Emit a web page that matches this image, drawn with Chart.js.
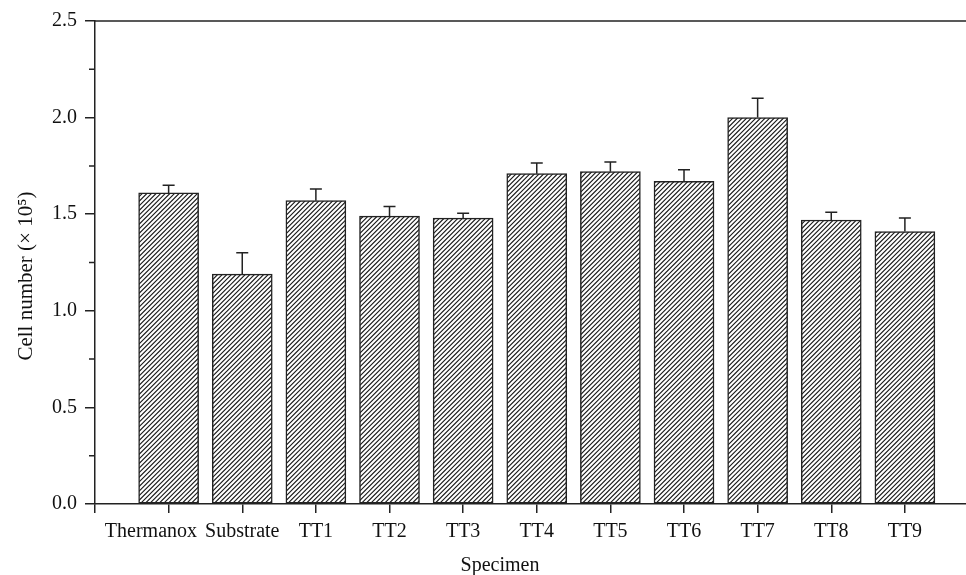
<!DOCTYPE html>
<html>
<head>
    <title>Cell number by specimen</title>
    <script src="https://cdn.jsdelivr.net/npm/chart.js@4.4.0/dist/chart.umd.min.js"></script>
    <style>
        body { margin: 0; padding: 0; background: #fff; overflow: hidden; }
        .chart-box { width: 966px; height: 575px; position: relative; }
    </style>
</head>
<body>
    <div class="chart-box"><canvas id="cellChart"></canvas></div>

    <script>
        // data (cell number, x10^5)
        const categories = ['Thermanox', 'Substrate', 'TT1', 'TT2', 'TT3', 'TT4', 'TT5', 'TT6', 'TT7', 'TT8', 'TT9'];
        const cellNumber = [1.61, 1.19, 1.57, 1.49, 1.48, 1.71, 1.72, 1.67, 2.00, 1.47, 1.41];
        const errorUpper = [0.04, 0.11, 0.06, 0.05, 0.025, 0.055, 0.05, 0.06, 0.10, 0.04, 0.07];
        const yMajorTicks = [0, 0.5, 1.0, 1.5, 2.0, 2.5];
        const yMinorTicks = [0.25, 0.75, 1.25, 1.75, 2.25];

        const font = { family: "'Liberation Serif', 'Times New Roman', serif", size: 20 };
        const ink = '#222';

        // "///" hatch, 5 stripes per 23px tile (about 4.6px apart)
        function hatchPattern() {
            const s = 23, k = 5;
            const c = document.createElement('canvas');
            c.width = s; c.height = s;
            const g = c.getContext('2d');
            g.fillStyle = '#fff';
            g.fillRect(0, 0, s, s);
            g.strokeStyle = '#1a1a1a';
            g.lineWidth = 1.15;
            g.beginPath();
            for (let j = 0; j <= 2 * k; j++) {
                const d = j * s / k;
                g.moveTo(d - s - 1, s + 1);
                g.lineTo(d + 1, -1);
            }
            g.stroke();
            return g.createPattern(c, 'repeat');
        }

        // top frame line, minor y ticks, upper error bars, x labels, axis titles
        const extras = {
            id: 'extras',
            afterDatasetsDraw(chart) {
                const ctx = chart.ctx;
                const x = chart.scales.x, y = chart.scales.y;
                const area = chart.chartArea;
                ctx.save();
                ctx.strokeStyle = ink;
                ctx.lineWidth = 1.5;

                ctx.beginPath();
                ctx.moveTo(area.left, area.top);
                ctx.lineTo(area.right, area.top);
                ctx.stroke();

                ctx.beginPath();
                yMinorTicks.forEach(v => {
                    const py = y.getPixelForValue(v);
                    ctx.moveTo(area.left, py);
                    ctx.lineTo(area.left - 6, py);
                });
                ctx.stroke();

                const meta = chart.getDatasetMeta(0);
                ctx.beginPath();
                meta.data.forEach((bar, i) => {
                    const top = y.getPixelForValue(cellNumber[i]);
                    const cap = y.getPixelForValue(cellNumber[i] + errorUpper[i]);
                    ctx.moveTo(bar.x, top);
                    ctx.lineTo(bar.x, cap);
                    ctx.moveTo(bar.x - 6, cap);
                    ctx.lineTo(bar.x + 6, cap);
                });
                ctx.stroke();

                // category labels, nudged left where a long one would run into its neighbour
                ctx.fillStyle = '#111';
                ctx.font = `${font.size}px ${font.family}`;
                ctx.textAlign = 'center';
                ctx.textBaseline = 'middle';
                const widths = categories.map(c => ctx.measureText(c).width);
                const centers = categories.map((c, i) => x.getPixelForValue(i + 1));
                for (let i = categories.length - 2; i >= 0; i--) {
                    const nextLeft = centers[i + 1] - widths[i + 1] / 2;
                    centers[i] = Math.min(centers[i], nextLeft - 8 - widths[i] / 2);
                }
                categories.forEach((c, i) => ctx.fillText(c, centers[i], x.top + 28));

                ctx.textBaseline = 'bottom';
                const cx = (x.left + x.getPixelForValue(categories.length)) / 2;
                ctx.fillText('Specimen', cx, chart.height + 1);

                ctx.font = `21px ${font.family}`;
                ctx.textBaseline = 'middle';
                ctx.translate(26, y.getPixelForValue(1.18));
                ctx.rotate(-Math.PI / 2);
                ctx.fillText('Cell number (\u00d7 10\u2075)', 0, 0);
                ctx.restore();
            }
        };

        try {
            new Chart(document.getElementById('cellChart'), {
                type: 'bar',
                data: {
                    datasets: [{
                        label: 'Cell number',
                        data: categories.map((c, i) => ({ x: i + 1, y: cellNumber[i] })),
                        backgroundColor: hatchPattern(),
                        borderColor: ink,
                        borderWidth: 1.5,
                        borderSkipped: false,
                        barThickness: 60
                    }]
                },
                options: {
                    responsive: true,
                    maintainAspectRatio: false,
                    animation: false,
                    layout: { padding: { top: 21, right: 0, bottom: 0, left: 0 } },
                    plugins: {
                        legend: { display: false },
                        tooltip: { enabled: false }
                    },
                    scales: {
                        x: {
                            type: 'linear',
                            min: 0,
                            max: 11.83,
                            offset: false,
                            afterBuildTicks: s => { s.ticks = [0].concat(categories.map((c, i) => i + 1)).map(v => ({ value: v })); },
                            afterFit: s => { s.height = 71; },
                            border: { display: true, color: ink, width: 1.5 },
                            grid: { display: true, offset: false, drawOnChartArea: false, drawTicks: true, tickLength: 9, color: ink, lineWidth: 1.5 },
                            ticks: { display: false }
                        },
                        y: {
                            min: 0,
                            max: 2.5,
                            afterBuildTicks: s => { s.ticks = yMajorTicks.map(v => ({ value: v })); },
                            afterFit: s => { s.width = 95; },
                            border: { display: true, color: ink, width: 1.5 },
                            grid: { display: true, drawOnChartArea: false, drawTicks: true, tickLength: 10, color: ink, lineWidth: 1.5 },
                            ticks: {
                                padding: 8,
                                color: '#111',
                                font: font,
                                callback: v => v.toFixed(1)
                            }
                        }
                    }
                },
                plugins: [extras]
            });
        } catch (error) {
            console.error('Error rendering chart:', error);
        }
    </script>
</body>
</html>
